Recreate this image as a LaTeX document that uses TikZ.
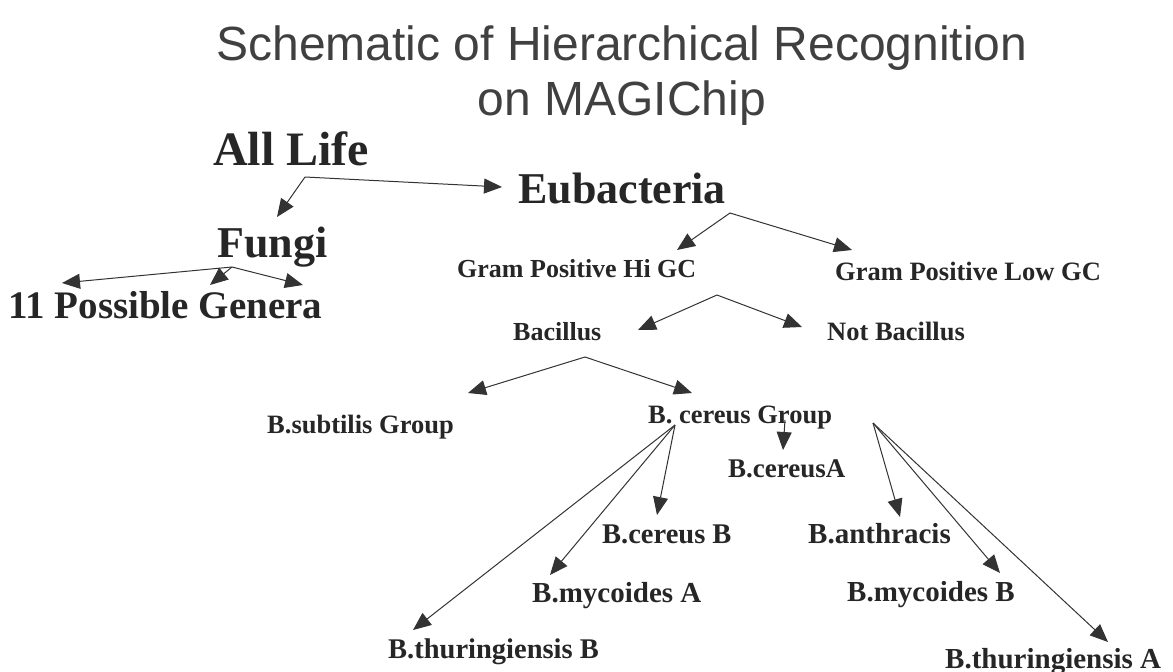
\documentclass[tikz,border=0pt]{standalone}
\usepackage{fontspec}
\setmainfont{Liberation Serif}
\newfontfamily\headfont{Liberation Sans}
\usetikzlibrary{arrows.meta}
\usepackage{xcolor}

\tikzset{
	taxon/.style={anchor=base west,inner sep=0pt,text=black!85,
		font=\bfseries\fontsize{#1}{#1}\selectfont},
	fork/.style={->,line width=1pt,draw=black!80}
}

\begin{document}
\begin{tikzpicture}[x=1pt,y=-1pt,>={Triangle[length=18pt,width=15pt]}]
	\useasboundingbox (0,0) rectangle (1173,672);
	\node[inner sep=0pt,anchor=north,align=center,text=black!75,
		font=\headfont\fontsize{48}{55}\selectfont] (title) at (622,26)
		{Schematic of Hierarchical Recognition\\on MAGIChip};
	% upper levels
	\node[taxon=48] (life) at (213,165) {All Life};
	\node[taxon=44] (eub) at (518,203) {Eubacteria};
	\node[taxon=44] (fungi) at (217,257) {Fungi};
	\node[taxon=39] (genera) at (8,318) {11 Possible Genera};
	\node[taxon=26] (hi) at (457,277) {Gram Positive Hi GC};
	\node[taxon=26.5] (low) at (835,280) {Gram Positive Low GC};
	\node[taxon=26] (bac) at (513,340) {Bacillus};
	\node[taxon=26.5] (notbac) at (827,340) {Not Bacillus};
	\node[taxon=26.5] (subtilis) at (267,433) {B.subtilis Group};
	\node[taxon=26.5] (cgroup) at (648,423) {B. cereus Group};
	% species
	\foreach \n/\x/\y/\s/\t in {
			cereusA/728/477/27/B.cereusA,
			cereusB/602/543/28.5/B.cereus B,
			anthracis/808/543/29/B.anthracis,
			mycA/532/602/29/B.mycoides A,
			mycB/847/601/29/B.mycoides B,
			thurB/388/658/28.5/B.thuringiensis B,
			thurA/945/668/29/B.thuringiensis A}
		\node[taxon=\s] (\n) at (\x,\y) {\t};

	\coordinate (lifefork) at ([shift={(92,12)}]life.base west);
	\coordinate (fungifork) at ([shift={(15,10)}]fungi.base west);
	\coordinate (eubfork) at ([shift={(212,10)}]eub.base west);
	\coordinate (hifork) at ([shift={(260,18)}]hi.base west);
	\coordinate (bacfork) at ([shift={(72,17)}]bac.base west);
	\coordinate (cgleft) at ([shift={(27,2)}]cgroup.base west);
	\coordinate (cgmid) at ([shift={(137,-3)}]cgroup.base west);
	\coordinate (cgright) at ([shift={(225,0)}]cgroup.base west);

	\draw[fork] (lifefork) -- ([shift={(-16,-16)}]eub.base west);
	\draw[fork] (lifefork) -- ([shift={(60,-40)}]fungi.base west);
	\foreach \dx/\dy in {54/-35, 202/-33, 295/-33}
		\draw[fork] (fungifork) -- ([shift={(\dx,\dy)}]genera.base west);
	\draw[fork] (eubfork) -- ([shift={(220,-27)}]hi.base west);
	\draw[fork] (eubfork) -- ([shift={(17,-30)}]low.base west);
	\draw[fork] (hifork) -- ([shift={(125,-10)}]bac.base west);
	\draw[fork] (hifork) -- ([shift={(-25,-13)}]notbac.base west);
	\draw[fork] (bacfork) -- ([shift={(201,-40)}]subtilis.base west);
	\draw[fork] (bacfork) -- ([shift={(44,-30)}]cgroup.base west);
	\foreach \c/\n/\dx/\dy in {
			cgleft/thurB/25/-28, cgleft/mycA/18/-27, cgleft/cereusB/55/-28,
			cgmid/cereusA/55/-27,
			cgright/anthracis/92/-26, cgright/mycB/153/-28, cgright/thurA/163/-26}
		\draw[fork] (\c) -- ([shift={(\dx,\dy)}]\n.base west);
\end{tikzpicture}
\end{document}
